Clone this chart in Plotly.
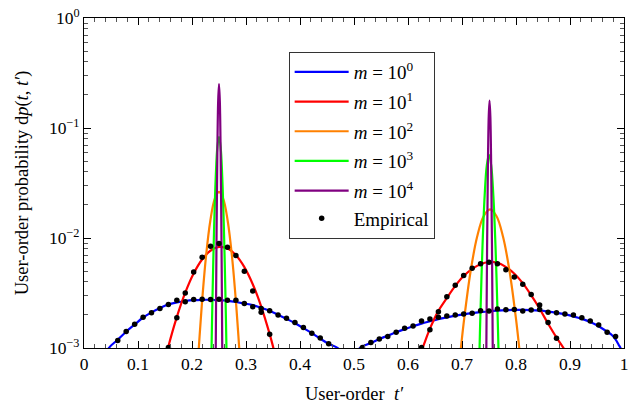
import plotly.graph_objects as go

# ---------------- model curves: left branch near t'=0.25, right branch near t'=0.75
m0_left_t = [0.040, 0.046, 0.0625, 0.078, 0.094, 0.109, 0.125, 0.141, 0.156, 0.172, 0.1875, 0.203,
             0.219, 0.234, 0.25, 0.266, 0.281, 0.297, 0.3125, 0.328, 0.344, 0.359, 0.375, 0.391,
             0.406, 0.422, 0.4375, 0.453, 0.47, 0.48]
m0_left_p = [8.32e-4, 1.00e-3, 1.189e-3, 1.406e-3, 1.637e-3, 1.884e-3, 2.109e-3, 2.307e-3, 2.483e-3,
             2.594e-3, 2.673e-3, 2.723e-3, 2.742e-3, 2.742e-3, 2.723e-3, 2.679e-3, 2.618e-3, 2.535e-3,
             2.455e-3, 2.317e-3, 2.173e-3, 2.009e-3, 1.841e-3, 1.679e-3, 1.521e-3, 1.365e-3, 1.216e-3,
             1.091e-3, 1.000e-3, 8.71e-4]
m0_right_t = [0.505, 0.511, 0.531, 0.547, 0.5625, 0.578, 0.594, 0.609, 0.625, 0.641, 0.656, 0.672,
              0.6875, 0.703, 0.719, 0.734, 0.75, 0.766, 0.781, 0.797, 0.8125, 0.828, 0.844, 0.859,
              0.875, 0.891, 0.906, 0.922, 0.9375, 0.953, 0.969, 0.977, 0.984, 0.990, 0.994, 0.997]
m0_right_p = [8.71e-4, 1.000e-3, 1.109e-3, 1.208e-3, 1.294e-3, 1.390e-3, 1.486e-3, 1.578e-3, 1.667e-3,
              1.750e-3, 1.828e-3, 1.901e-3, 1.968e-3, 2.023e-3, 2.075e-3, 2.118e-3, 2.158e-3, 2.188e-3,
              2.208e-3, 2.218e-3, 2.218e-3, 2.208e-3, 2.183e-3, 2.143e-3, 2.089e-3, 2.023e-3, 1.941e-3,
              1.841e-3, 1.722e-3, 1.578e-3, 1.406e-3, 1.318e-3, 1.202e-3, 1.072e-3, 9.89e-4, 8.51e-4]

m1_left_t = [0.150, 0.156, 0.172, 0.1875, 0.203, 0.219, 0.234, 0.25, 0.266, 0.281, 0.297, 0.3125,
             0.328, 0.344, 0.351, 0.357]
m1_left_p = [7.76e-4, 1.023e-3, 1.919e-3, 3.184e-3, 4.753e-3, 6.412e-3, 7.656e-3, 8.299e-3, 8.017e-3,
             6.998e-3, 5.433e-3, 3.802e-3, 2.393e-3, 1.330e-3, 9.89e-4, 7.59e-4]
m1_right_t = [0.620, 0.627, 0.641, 0.656, 0.672, 0.6875, 0.703, 0.719, 0.734, 0.75, 0.766, 0.781,
              0.797, 0.8125, 0.828, 0.844, 0.859, 0.875, 0.888, 0.895]
m1_right_p = [8.32e-4, 1.000e-3, 1.514e-3, 2.163e-3, 2.851e-3, 3.673e-3, 4.519e-3, 5.248e-3, 5.781e-3,
              6.053e-3, 5.957e-3, 5.470e-3, 4.732e-3, 3.890e-3, 3.020e-3, 2.265e-3, 1.679e-3, 1.245e-3,
              1.000e-3, 8.51e-4]

m2_left_t = [0.208, 0.2126, 0.218, 0.226, 0.234, 0.242, 0.25, 0.258, 0.266, 0.274, 0.282, 0.2874, 0.292]
m2_left_p = [4.26e-4, 1.00e-3, 2.40e-3, 6.84e-3, 1.442e-2, 2.259e-2, 2.624e-2, 2.259e-2, 1.442e-2,
             6.84e-3, 2.40e-3, 1.00e-3, 4.26e-4]
m2_right_t = [0.692, 0.698, 0.704, 0.716, 0.728, 0.740, 0.752, 0.764, 0.776, 0.788, 0.800, 0.806, 0.812]
m2_right_p = [5.06e-4, 1.00e-3, 1.837e-3, 5.012e-3, 1.026e-2, 1.578e-2, 1.820e-2, 1.578e-2, 1.026e-2,
              5.012e-3, 1.837e-3, 1.00e-3, 5.06e-4]

m3_left_t = [0.234, 0.2362, 0.238, 0.241, 0.244, 0.247, 0.25, 0.253, 0.256, 0.259, 0.262, 0.2638, 0.266]
m3_left_p = [2.19e-4, 1.00e-3, 2.938e-3, 1.268e-2, 3.606e-2, 6.745e-2, 8.318e-2, 6.745e-2, 3.606e-2,
             1.268e-2, 2.938e-3, 1.00e-3, 2.19e-4]
m3_right_t = [0.730, 0.7325, 0.734, 0.738, 0.742, 0.746, 0.750, 0.754, 0.758, 0.762, 0.766, 0.7675, 0.770]
m3_right_p = [2.90e-4, 1.00e-3, 1.941e-3, 8.511e-3, 2.443e-2, 4.603e-2, 5.689e-2, 4.603e-2, 2.443e-2,
              8.511e-3, 1.941e-3, 1.00e-3, 2.90e-4]

m4_left_t = [0.243, 0.244, 0.2455, 0.247, 0.2485, 0.25, 0.2515, 0.253, 0.2545, 0.256, 0.257]
m4_left_p = [1.35e-4, 1.00e-3, 1.122e-2, 6.310e-2, 0.1778, 0.2512, 0.1778, 6.310e-2, 1.122e-2,
             1.00e-3, 1.35e-4]
m4_right_t = [0.744, 0.7451, 0.7465, 0.748, 0.7495, 0.751, 0.7525, 0.754, 0.7555, 0.7569, 0.758]
m4_right_p = [1.20e-4, 1.00e-3, 8.73e-3, 4.656e-2, 0.1274, 0.1778, 0.1274, 4.656e-2, 8.73e-3,
              1.00e-3, 1.20e-4]

# ---------------- empirical samples
emp_m0_left_t = [0.0625, 0.0781, 0.0938, 0.1094, 0.125, 0.1406, 0.1563, 0.1719, 0.1875, 0.2031,
                 0.2188, 0.2344, 0.25, 0.2656, 0.2813, 0.2969, 0.3125, 0.3281, 0.3438, 0.3594,
                 0.375, 0.3906, 0.4063, 0.4219, 0.4375, 0.4531]
emp_m0_left_p = [1.169e-3, 1.413e-3, 1.644e-3, 1.901e-3, 2.089e-3, 2.291e-3, 2.489e-3, 2.723e-3,
                 2.630e-3, 2.761e-3, 2.780e-3, 2.761e-3, 2.780e-3, 2.723e-3, 2.723e-3, 2.541e-3,
                 2.371e-3, 2.291e-3, 2.183e-3, 1.995e-3, 1.862e-3, 1.702e-3, 1.535e-3, 1.365e-3,
                 1.230e-3, 1.094e-3]
emp_m1_left_t = [0.1563, 0.1719, 0.1875, 0.2031, 0.2188, 0.2344, 0.25, 0.2656, 0.2813, 0.2969,
                 0.3125, 0.3281, 0.3438]
emp_m1_left_p = [1.012e-3, 1.888e-3, 3.162e-3, 4.898e-3, 6.683e-3, 8.395e-3, 8.933e-3, 8.222e-3,
                 6.918e-3, 4.989e-3, 3.304e-3, 2.109e-3, 1.334e-3]
emp_m0_right_t = [0.5156, 0.5313, 0.5469, 0.5625, 0.5781, 0.5938, 0.6094, 0.625, 0.6406, 0.6563,
                  0.6719, 0.6875, 0.7031, 0.7188, 0.7344, 0.75, 0.7656, 0.7813, 0.7969, 0.8125,
                  0.8281, 0.8438, 0.8594, 0.875, 0.8906, 0.9063, 0.9219, 0.9375, 0.9531, 0.9688,
                  0.9844]
emp_m0_right_p = [1.012e-3, 1.122e-3, 1.205e-3, 1.274e-3, 1.393e-3, 1.514e-3, 1.589e-3, 1.762e-3,
                  1.837e-3, 1.901e-3, 1.954e-3, 1.995e-3, 2.037e-3, 2.065e-3, 2.183e-3, 2.168e-3,
                  2.259e-3, 2.228e-3, 2.244e-3, 2.168e-3, 2.213e-3, 2.244e-3, 2.109e-3, 2.094e-3,
                  2.037e-3, 1.995e-3, 1.888e-3, 1.762e-3, 1.622e-3, 1.393e-3, 1.274e-3]
emp_m1_right_t = [0.625, 0.6406, 0.6563, 0.6719, 0.6875, 0.7031, 0.7188, 0.7344, 0.75, 0.7656,
                  0.7813, 0.7969, 0.8125, 0.8281, 0.8438, 0.8594, 0.875]
emp_m1_right_p = [1.012e-3, 1.462e-3, 2.138e-3, 2.917e-3, 3.715e-3, 4.571e-3, 5.321e-3, 5.821e-3,
                  6.026e-3, 5.821e-3, 5.140e-3, 4.416e-3, 3.793e-3, 3.062e-3, 2.455e-3, 1.702e-3,
                  1.225e-3]

series_names = ["<i>m</i> = 10<sup>0</sup>", "<i>m</i> = 10<sup>1</sup>", "<i>m</i> = 10<sup>2</sup>",
                "<i>m</i> = 10<sup>3</sup>", "<i>m</i> = 10<sup>4</sup>"]
series_colors = ["#0000ff", "#ff0000", "#ff8000", "#00ff00", "#800080"]
empirical_name = "Empirical"

x_tick_vals = [0, 0.1, 0.2, 0.3, 0.4, 0.5, 0.6, 0.7, 0.8, 0.9, 1]
x_tick_text = ["0", "0.1", "0.2", "0.3", "0.4", "0.5", "0.6", "0.7", "0.8", "0.9", "1"]
y_tick_vals = [1e-3, 1e-2, 1e-1, 1]
y_tick_text = ["10<sup>\u22123</sup>", "10<sup>\u22122</sup>", "10<sup>\u22121</sup>", "10<sup>0</sup>"]

FONT = "Liberation Serif"

curves = [
    (m0_left_t, m0_left_p, m0_right_t, m0_right_p),
    (m1_left_t, m1_left_p, m1_right_t, m1_right_p),
    (m2_left_t, m2_left_p, m2_right_t, m2_right_p),
    (m3_left_t, m3_left_p, m3_right_t, m3_right_p),
    (m4_left_t, m4_left_p, m4_right_t, m4_right_p),
]

fig = go.Figure()
for i, (lt, lp, rt, rp) in enumerate(curves):
    fig.add_trace(go.Scatter(
        x=list(lt) + [None] + list(rt),
        y=list(lp) + [None] + list(rp),
        mode="lines",
        line=dict(color=series_colors[i], width=2.2, shape="spline"),
        name=series_names[i],
        legendgroup=f"g{i}",
    ))

# the empirical entry shares the last legend group so it sits one row below m = 10^4
emp_t = emp_m0_left_t + emp_m1_left_t + emp_m0_right_t + emp_m1_right_t
emp_p = emp_m0_left_p + emp_m1_left_p + emp_m0_right_p + emp_m1_right_p
fig.add_trace(go.Scatter(
    x=emp_t, y=emp_p, mode="markers",
    marker=dict(color="black", size=5.5),
    name=empirical_name, legendgroup="g4",
))

axis_common = dict(
    showline=True, linecolor="black", linewidth=1, mirror="ticks",
    ticks="inside", tickcolor="black", showgrid=False, zeroline=False,
    tickfont=dict(family=FONT, size=17.5, color="black"),
)

fig.update_xaxes(
    range=[0, 1], tickmode="array", tickvals=x_tick_vals, ticktext=x_tick_text,
    ticklen=7, tickwidth=0.8,
    minor=dict(ticks="inside", ticklen=4, tickwidth=0.6, tickcolor="#555", dtick=0.02, showgrid=False),
    title=dict(text="User-order  <i>t\u2032</i>", font=dict(family=FONT, size=18.5, color="black"),
               standoff=14),
    **axis_common,
)
fig.update_yaxes(
    type="log", range=[-3, 0], tickmode="array", tickvals=y_tick_vals, ticktext=y_tick_text,
    ticklen=7, tickwidth=0.8,
    minor=dict(ticks="inside", ticklen=4, tickwidth=0.6, tickcolor="#555", dtick="D1", showgrid=False),
    title=dict(text="User-order probability d<i>p</i>(<i>t</i>, <i>t\u2032</i>)",
               font=dict(family=FONT, size=18.5, color="black"), standoff=15),
    **axis_common,
)

fig.update_layout(
    width=634, height=411,
    margin=dict(l=84, r=6, t=15, b=63),
    paper_bgcolor="white", plot_bgcolor="white",
    font=dict(family=FONT, size=17, color="black"),
    legend=dict(
        x=0.379, y=0.897, xanchor="left", yanchor="top",
        bgcolor="white", bordercolor="#333", borderwidth=1,
        font=dict(family=FONT, size=19, color="black"),
        itemwidth=54, traceorder="grouped", tracegroupgap=2,
    ),
)

fig.write_html("out.html")
